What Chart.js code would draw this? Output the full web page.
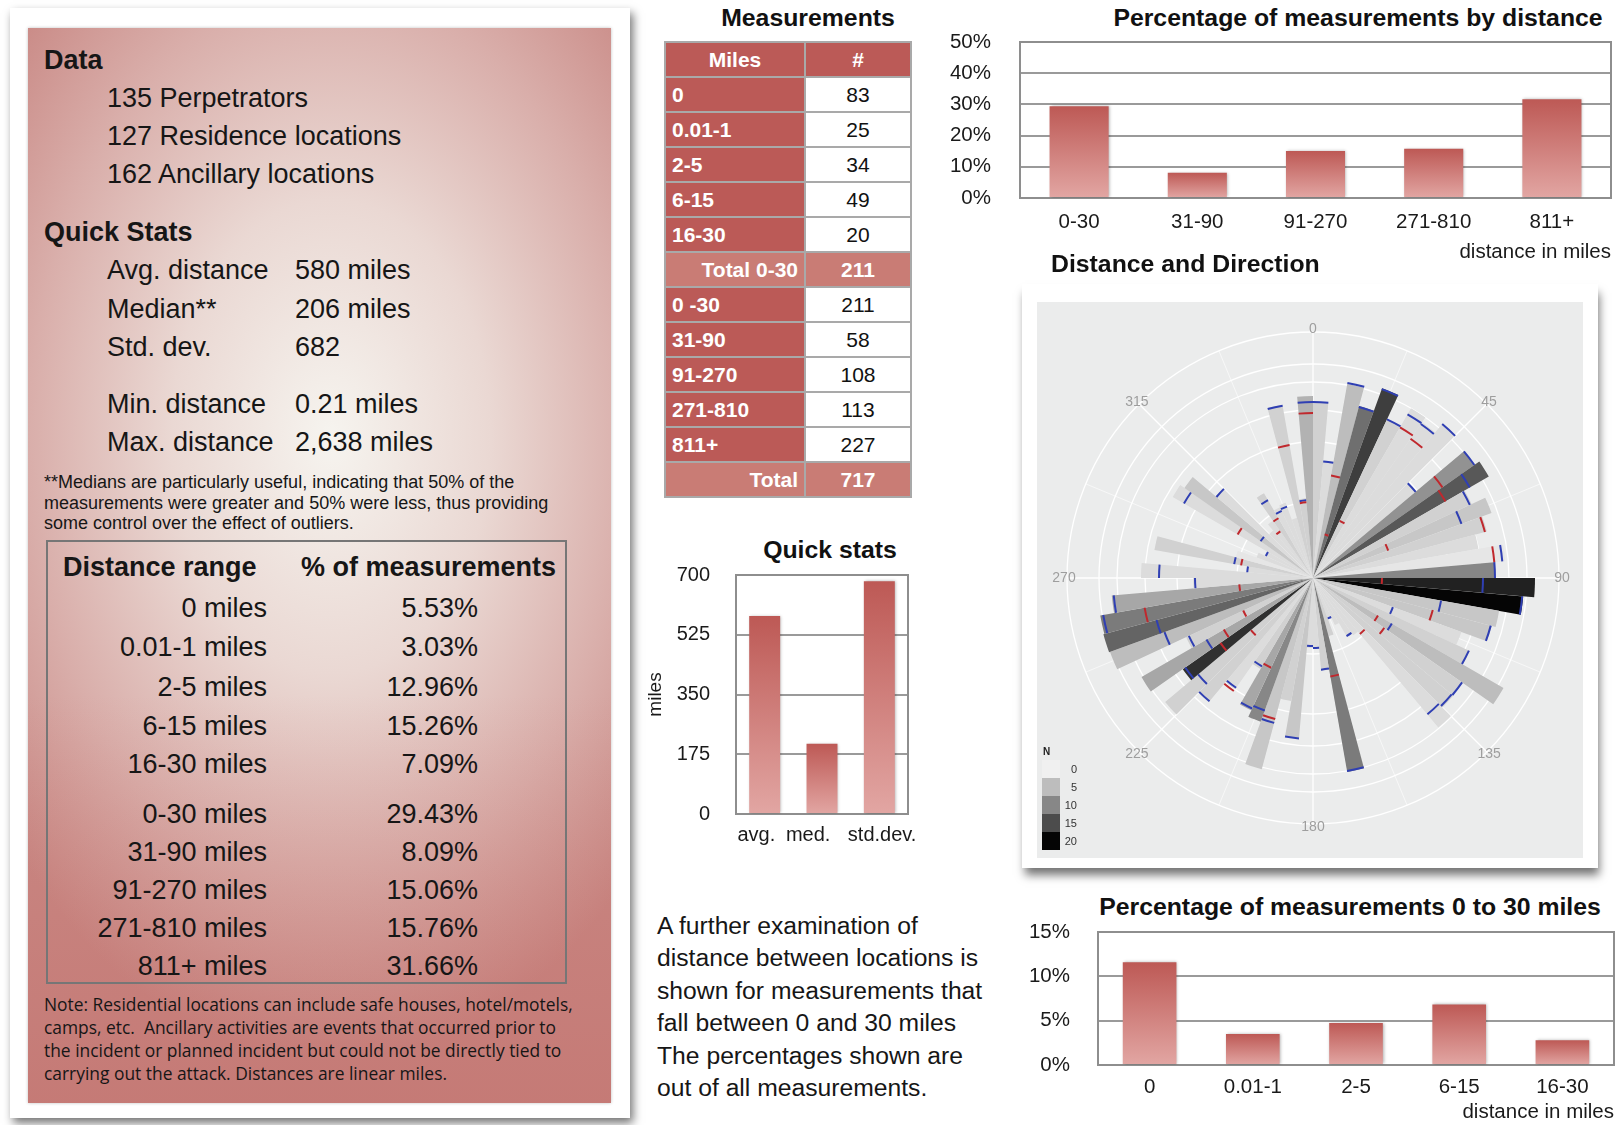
<!DOCTYPE html>
<html>
<head>
<meta charset="utf-8">
<script src="https://cdn.jsdelivr.net/npm/chart.js@4.4.0/dist/chart.umd.min.js"></script>
<style>
  body { margin:0; width:1619px; height:1125px; position:relative; overflow:hidden; background:#fff;
         font-family:"Liberation Sans", Arial, Helvetica, sans-serif; color:#161616; }
  .t { position:absolute; white-space:nowrap; line-height:1; transform:translateY(-50%); }
  .r { transform:translate(-100%,-50%); }
  .c { transform:translate(-50%,-50%); }
  .b { font-weight:bold; }
  .lp { font-size:27px; }
  .fn { font-size:18px; }
  .nt { font:17.4px/1 "Open Sans", sans-serif; }
  .pg { font-size:24.7px; }
  .ttl { font-size:24.8px; font-weight:bold; color:#111; }
  canvas { position:absolute; }
  #mt { position:absolute; left:664px; top:41px; border-collapse:collapse; }
  #mt td { border:2px solid #a9a9a9; height:33px; padding:0 6px; font-size:21px; line-height:1; }
  #mt td.k { width:126px; background:#bb5a57; color:#fff; font-weight:bold; }
  #mt td.v { width:92px; background:#fff; color:#111; text-align:center; }
  #mt tr.hd td { text-align:center; }
  #mt tr.tot td { background:#c97c75; color:#fff; font-weight:bold; }
  #mt tr.tot td.k { text-align:right; }
</style>
</head>
<body>

<!-- left information card -->
<div style="position:absolute;left:10px;top:8px;width:620px;height:1110px;background:#fff;box-shadow:3px 5px 9px rgba(0,0,0,0.55);"></div>
<div style="position:absolute;left:28px;top:28px;width:583px;height:1075px;
  background:linear-gradient(to bottom, rgba(190,95,90,0) 62%, rgba(190,95,90,0.35) 100%),
             radial-gradient(ellipse 72% 58% at 52% 38%, #f6f4ef 0%, #ead8d3 38%, #d9aeaa 72%, #c98985 100%);
  box-shadow:0 0 3px rgba(0,0,0,0.25);"></div>

<div class="t b lp" style="left:44px;top:60px;">Data</div>
<div class="t lp" style="left:107px;top:98px;">135 Perpetrators</div>
<div class="t lp" style="left:107px;top:136px;">127 Residence locations</div>
<div class="t lp" style="left:107px;top:174px;">162 Ancillary locations</div>

<div class="t b lp" style="left:44px;top:232px;">Quick Stats</div>
<div class="t lp" style="left:107px;top:270px;">Avg. distance</div><div class="t lp" style="left:295px;top:270px;">580 miles</div>
<div class="t lp" style="left:107px;top:309px;">Median**</div><div class="t lp" style="left:295px;top:309px;">206 miles</div>
<div class="t lp" style="left:107px;top:347px;">Std. dev.</div><div class="t lp" style="left:295px;top:347px;">682</div>
<div class="t lp" style="left:107px;top:404px;">Min. distance</div><div class="t lp" style="left:295px;top:404px;">0.21 miles</div>
<div class="t lp" style="left:107px;top:442px;">Max. distance</div><div class="t lp" style="left:295px;top:442px;">2,638 miles</div>

<div class="t fn" style="left:44px;top:482px;">**Medians are particularly useful, indicating that 50% of the</div>
<div class="t fn" style="left:44px;top:503px;">measurements were greater and 50% were less, thus providing</div>
<div class="t fn" style="left:44px;top:523px;">some control over the effect of outliers.</div>

<div style="position:absolute;left:46px;top:540px;width:517px;height:440px;border:2px solid #767676;"></div>
<div class="t b lp" style="left:63px;top:567px;">Distance range</div>
<div class="t b lp" style="left:301px;top:567px;">% of measurements</div>
<div id="pctRows"></div>

<div class="t nt" style="left:44px;top:1005px;">Note: Residential locations can include safe houses, hotel/motels,</div>
<div class="t nt" style="left:44px;top:1028px;">camps, etc.&nbsp; Ancillary activities are events that occurred prior to</div>
<div class="t nt" style="left:44px;top:1051px;">the incident or planned incident but could not be directly tied to</div>
<div class="t nt" style="left:44px;top:1074px;">carrying out the attack. Distances are linear miles.</div>

<!-- middle column -->
<div class="t c ttl" style="left:808px;top:18px;">Measurements</div>
<table id="mt"></table>

<div class="t c ttl" style="left:830px;top:550px;">Quick stats</div>
<canvas id="statChart" width="275" height="285" style="left:640px;top:565px;"></canvas>

<div class="t pg" style="left:657px;top:926px;">A further examination of</div>
<div class="t pg" style="left:657px;top:958px;">distance between locations is</div>
<div class="t pg" style="left:657px;top:991px;">shown for measurements that</div>
<div class="t pg" style="left:657px;top:1023px;">fall between 0 and 30 miles</div>
<div class="t pg" style="left:657px;top:1056px;">The percentages shown are</div>
<div class="t pg" style="left:657px;top:1088px;">out of all measurements.</div>

<!-- right column -->
<div class="t c ttl" style="left:1358px;top:18px;">Percentage of measurements by distance</div>
<canvas id="distChart" width="679" height="235" style="left:940px;top:30px;"></canvas>

<div class="t ttl" style="left:1051px;top:264px;">Distance and Direction</div>
<div style="position:absolute;left:1022px;top:284px;width:576px;height:584px;background:#fff;box-shadow:2px 8px 9px -1px rgba(0,0,0,0.55);"></div>
<canvas id="polar" width="546" height="556" style="left:1037px;top:302px;background:#ebecec;"></canvas>
<div id="polarKey"></div>

<div class="t c ttl" style="left:1350px;top:907px;">Percentage of measurements 0 to 30 miles</div>
<canvas id="nearChart" width="629" height="205" style="left:990px;top:920px;"></canvas>

<script>
// ---- data ----
const rangeLabels = ['0 miles', '0.01-1 miles', '2-5 miles', '6-15 miles', '16-30 miles',
                     '0-30 miles', '31-90 miles', '91-270 miles', '271-810 miles', '811+ miles'];
const rangePct = ['5.53%', '3.03%', '12.96%', '15.26%', '7.09%', '29.43%', '8.09%', '15.06%', '15.76%', '31.66%'];

const measureRows = ['0', '0.01-1', '2-5', '6-15', '16-30', 'Total 0-30', '0 -30', '31-90', '91-270', '271-810', '811+', 'Total'];
const measureCounts = [83, 25, 34, 49, 20, 211, 211, 58, 108, 113, 227, 717];

const statCats = ['avg.', 'med.', 'std.dev.'];
const statMiles = [580, 206, 682];

const distCats = ['0-30', '31-90', '91-270', '271-810', '811+'];
const distPct = [29.43, 8.09, 15.06, 15.76, 31.66];

const nearCats = ['0', '0.01-1', '2-5', '6-15', '16-30'];
const nearPct = [11.58, 3.49, 4.74, 6.83, 2.79];

// direction bins of 5 degrees, bar length (radial units), count N per bin
const polarBins = Array.from({length: 72}, (_, i) => String(i * 5));
const polarLength = [176,118,197,178,202,175,196,190,201,134,197,203,175,190,180,168,193,182,
                     222,211,189,185,158,173,220,182,183,195,70,68,52,43,60,197,93,70,
                     70,161,125,198,153,146,105,136,162,193,159,198,140,216,217,216,202,120,
                     172,66,161,80,60,52,162,157,127,62,70,98,78,80,62,176,80,182];
const polarCount = [3,2,5,12,16,3,2,2,2,2,9,14,3,4,3,2,1,10,
                    18,20,4,4,2,3,5,3,3,2,2,2,2,2,3,11,3,2,
                    2,4,3,4,10,7,3,2,3,3,17,7,3,5,13,11,7,2,
                    2,2,3,1,2,2,2,4,2,2,2,3,2,2,2,3,3,6];
const polarBlue = [176,117,198,177,201,175,189,188,201,134,197,181,173,158,null,null,190,182,
                   170,210,130,184,85,172,91,182,181,178,null,67,null,43,null,196,92,70,
                   68,161,null,150,141,144,102,134,161,150,156,123,137,158,162,213,200,118,
                   154,66,80,null,null,52,149,64,126,null,null,90,74,76,null,175,78,176];
const polarRed = [null,null,104,45,null,63,174,170,null,null,158,153,null,80,178,null,182,null,
                  69,null,null,124,null,null,75,87,null,73,null,null,null,null,null,100,null,null,
                  null,null,null,146,null,99,null,138,null,81,113,103,77,null,null,171,74,null,
                  null,null,73,null,null,null,87,null,null,null,57,69,null,null,null,135,76,165];
const polarRings = [0, 76, 136, 168, 196, 214, 246];
const compassLabels = ['0', '45', '90', '135', '180', '225', '270', '315'];
const keyN = [0, 5, 10, 15, 20];
const keyGrey = [240, 189, 135, 76, 5];

// ---- html tables ----
const rowY = [608, 647, 687, 726, 764, 814, 852, 890, 928, 966];
document.getElementById('pctRows').innerHTML = rangeLabels.map((l, i) =>
  `<div class="t r lp" style="left:267px;top:${rowY[i]}px;">${l}</div>` +
  `<div class="t r lp" style="left:478px;top:${rowY[i]}px;">${rangePct[i]}</div>`).join('');

let rows = '<tr class="hd"><td class="k">Miles</td><td class="k" style="width:92px">#</td></tr>';
measureRows.forEach((m, i) => {
  const tot = m.startsWith('Total');
  rows += `<tr class="${tot ? 'tot' : ''}"><td class="k">${m}</td><td class="v">${measureCounts[i]}</td></tr>`;
});
document.getElementById('mt').innerHTML = rows;

function greyFor(n) {
  let i = 0;
  while (i < keyN.length - 2 && n > keyN[i + 1]) i++;
  const t = (n - keyN[i]) / (keyN[i + 1] - keyN[i]);
  const v = Math.round(keyGrey[i] + t * (keyGrey[i + 1] - keyGrey[i]));
  return `rgb(${v},${v},${v})`;
}

// colour key for N
let key = '<div class="t b" style="left:1043px;top:752px;font-size:10px;color:#222">N</div>';
keyN.forEach((n, i) => {
  key += `<div style="position:absolute;left:1042px;top:${760 + i * 18}px;width:18px;height:18px;background:${greyFor(n)}"></div>`;
  key += `<div class="t r" style="left:1077px;top:${769 + i * 18}px;font-size:11px;color:#333">${n}</div>`;
});
document.getElementById('polarKey').innerHTML = key;

// ---- charts ----
Chart.defaults.font.family = '"Liberation Sans", Arial, sans-serif';
Chart.defaults.color = '#1a1a1a';

function barFill(ctx) {
  const y = ctx.chart.scales.y;
  if (ctx.type !== 'data' || !y) return '#c8706c';
  const top = y.getPixelForValue(ctx.raw), base = y.getPixelForValue(0);
  if (!isFinite(top) || !isFinite(base)) return '#c8706c';
  const g = ctx.chart.ctx.createLinearGradient(0, top, 0, base);
  g.addColorStop(0, '#bd5955');
  g.addColorStop(1, '#e2a6a3');
  return g;
}

const framePlugin = {
  id: 'frame',
  beforeDatasetsDraw(chart) {
    const {ctx, chartArea: a} = chart;
    ctx.save();
    ctx.strokeStyle = '#8e8e8e';
    ctx.lineWidth = 2;
    ctx.strokeRect(a.left, a.top, a.right - a.left, a.bottom - a.top);
    ctx.restore();
  }
};

const shadowPlugin = {
  id: 'barShadow',
  beforeDatasetsDraw(chart) {
    const c = chart.ctx;
    c.save();
    c.shadowColor = 'rgba(0,0,0,0.3)';
    c.shadowBlur = 3;
    c.shadowOffsetX = 1;
  },
  afterDatasetsDraw(chart) { chart.ctx.restore(); }
};

function makeBar(id, labels, values, cfg) {
  const nb = n => '\u00a0'.repeat(n);
  return new Chart(document.getElementById(id), {
    type: 'bar',
    data: {labels, datasets: [{data: values, backgroundColor: barFill, borderWidth: 0,
                               barPercentage: cfg.barPct, categoryPercentage: 1}]},
    options: {
      responsive: false, animation: false,
      layout: {padding: cfg.pad},
      plugins: {legend: {display: false}, tooltip: {enabled: false}},
      scales: {
        x: {
          grid: {display: false, drawTicks: false}, border: {display: false},
          ticks: {font: {size: cfg.font}, padding: cfg.xPad, maxRotation: 0, autoSkip: false, color: '#1a1a1a',
                  callback: (v, i) => cfg.shift ? nb(Math.max(0, -cfg.shift[i])) + labels[i] + nb(Math.max(0, cfg.shift[i])) : labels[i]},
          title: {display: !!cfg.xTitle, text: cfg.xTitle || '', align: 'end', font: {size: cfg.font}, padding: 0, color: '#1a1a1a'},
          afterFit: s => { s.height = cfg.xH; s.paddingLeft = 0; s.paddingRight = 0; }
        },
        y: {
          min: 0, max: cfg.max,
          ticks: {stepSize: cfg.step, font: {size: cfg.font}, padding: cfg.yPad, color: '#1a1a1a', autoSkip: false, callback: cfg.fmt},
          grid: {color: '#9a9a9a', lineWidth: 2, drawTicks: false}, border: {display: false},
          title: {display: !!cfg.yTitle, text: cfg.yTitle || '', font: {size: 19}, padding: {top: 4, bottom: 4}, color: '#1a1a1a'},
          afterFit: s => { s.width = cfg.yW; s.paddingTop = 0; s.paddingBottom = 0; }
        }
      }
    },
    plugins: [framePlugin, shadowPlugin]
  });
}

makeBar('statChart', statCats, statMiles, {
  barPct: 0.54, pad: {top: 10, right: 7}, xPad: 9, xH: 36, max: 700, step: 175, yPad: 26, yW: 96,
  font: 20, fmt: v => v, yTitle: 'miles', shift: [3, 5, -1]
});
makeBar('distChart', distCats, distPct, {
  barPct: 0.5, pad: {top: 12, right: 8}, xPad: 12, xH: 67, max: 50, step: 10, yPad: 29, yW: 80,
  font: 20.5, fmt: v => v + '%', xTitle: 'distance in miles'
});
makeBar('nearChart', nearCats, nearPct, {
  barPct: 0.52, pad: {top: 12, right: 5}, xPad: 10, xH: 60, max: 15, step: 5, yPad: 28, yW: 108,
  font: 20.5, fmt: v => v + '%', xTitle: 'distance in miles'
});

const polarPlugin = {
  id: 'polarExtras',
  beforeDatasetsDraw(chart) {
    const s = chart.scales.r, c = chart.ctx;
    const R = s.getDistanceFromCenterForValue(polarRings[polarRings.length - 1]);
    c.save();
    c.strokeStyle = '#ffffff';
    for (let k = 0; k < 16; k++) {
      const p = s.getPointPosition(k * 4.5, R);
      c.lineWidth = k % 2 ? 0.6 : 1.3;
      c.beginPath(); c.moveTo(s.xCenter, s.yCenter); c.lineTo(p.x, p.y); c.stroke();
    }
    c.restore();
  },
  afterDatasetsDraw(chart) {
    const s = chart.scales.r, c = chart.ctx;
    const arcs = chart.getDatasetMeta(0).data;
    c.save();
    c.lineWidth = 2;
    [[polarBlue, '#2f3fb3'], [polarRed, '#c0282d']].forEach(([vals, col]) => {
      c.strokeStyle = col;
      vals.forEach((v, i) => {
        if (v == null) return;
        const r = s.getDistanceFromCenterForValue(v);
        c.beginPath();
        c.arc(s.xCenter, s.yCenter, r, arcs[i].startAngle, arcs[i].endAngle);
        c.stroke();
      });
    });
    c.fillStyle = '#9e9e9e';
    c.font = '14px "Liberation Sans", Arial, sans-serif';
    c.textAlign = 'center';
    c.textBaseline = 'middle';
    compassLabels.forEach((l, k) => {
      const p = s.getPointPosition(k * 9, s.getDistanceFromCenterForValue(249));
      c.fillText(l, p.x, p.y);
    });
    c.restore();
  }
};

new Chart(document.getElementById('polar'), {
  type: 'polarArea',
  data: {labels: polarBins, datasets: [{data: polarLength, backgroundColor: polarCount.map(greyFor), borderWidth: 0}]},
  options: {
    responsive: false, animation: false,
    layout: {padding: {left: 26, top: 26, right: 20, bottom: 30}},
    plugins: {legend: {display: false}, tooltip: {enabled: false}},
    scales: {
      r: {
        min: 0, max: 250, startAngle: 0,
        ticks: {display: false},
        grid: {color: '#ffffff', lineWidth: 1.3},
        angleLines: {display: false},
        pointLabels: {display: false},
        afterBuildTicks: s => { s.ticks = polarRings.map(v => ({value: v})); }
      }
    }
  },
  plugins: [polarPlugin]
});
</script>
</body>
</html>
